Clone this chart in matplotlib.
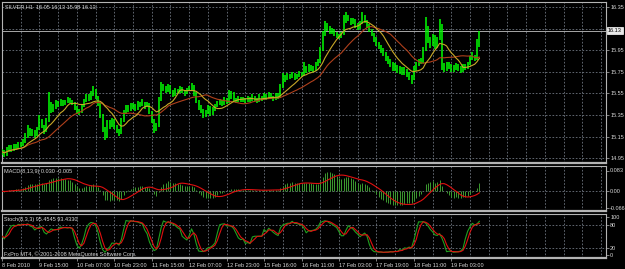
import matplotlib
matplotlib.use("Agg")
import matplotlib.pyplot as plt
import numpy as np
import pandas as pd

# ---------------- data ----------------
closes = [
    15.01, 14.99, 15.03, 15.05, 15.04, 15.06, 15.05, 15.08, 15.07, 15.10,
    15.15, 15.22, 15.18, 15.20, 15.17, 15.22, 15.30, 15.25, 15.20, 15.30,
    15.45, 15.40, 15.42, 15.46, 15.44, 15.48, 15.45, 15.47, 15.50, 15.48,
    15.46, 15.42, 15.40, 15.38, 15.43, 15.48, 15.52, 15.50, 15.55, 15.58,
    15.52, 15.45, 15.35, 15.22, 15.15, 15.28, 15.25, 15.30, 15.24, 15.20,
    15.18, 15.30, 15.38, 15.42, 15.40, 15.44, 15.43, 15.41, 15.45, 15.44,
    15.46, 15.43, 15.45, 15.38, 15.30, 15.22, 15.25, 15.50, 15.62, 15.60,
    15.58, 15.62, 15.56, 15.55, 15.58, 15.56, 15.60, 15.57, 15.55, 15.58,
    15.60, 15.62, 15.55, 15.48, 15.42, 15.40, 15.35, 15.38, 15.42, 15.36,
    15.40, 15.43, 15.46, 15.48, 15.45, 15.50, 15.47, 15.52, 15.55, 15.50,
    15.48, 15.51, 15.49, 15.50, 15.48, 15.51, 15.49, 15.52, 15.50, 15.48,
    15.52, 15.50, 15.53, 15.51, 15.54, 15.52, 15.50, 15.53, 15.52, 15.62,
    15.70, 15.68, 15.72, 15.70, 15.73, 15.69, 15.71, 15.74, 15.72, 15.78,
    15.76, 15.80, 15.78, 15.77, 15.82, 15.84, 15.95, 16.10, 16.18, 16.15,
    16.12, 16.14, 16.10, 16.08, 16.07, 16.10, 16.22, 16.26, 16.24, 16.20,
    16.23, 16.18, 16.16, 16.20, 16.26, 16.22, 16.18, 16.14, 16.10, 16.05,
    16.02, 15.98, 15.95, 15.92, 15.88, 15.85, 15.82, 15.78, 15.80, 15.76,
    15.78, 15.74, 15.77, 15.73, 15.70, 15.68, 15.78, 15.82, 15.85, 15.84,
    15.95, 16.15, 16.05, 16.00, 16.08, 15.98, 16.05, 16.18, 15.80, 15.78,
    15.82, 15.80, 15.77, 15.79, 15.81, 15.78, 15.76, 15.80, 15.79, 15.82,
    15.88, 15.90, 15.87, 16.02, 16.13,
]
highs = [
    15.04, 15.03, 15.05, 15.07, 15.07, 15.08, 15.08, 15.10, 15.10, 15.13,
    15.18, 15.26, 15.23, 15.22, 15.21, 15.24, 15.35, 15.31, 15.26, 15.32,
    15.56, 15.47, 15.45, 15.49, 15.48, 15.50, 15.49, 15.49, 15.52, 15.51,
    15.49, 15.47, 15.43, 15.41, 15.45, 15.50, 15.54, 15.54, 15.57, 15.62,
    15.59, 15.53, 15.46, 15.36, 15.24, 15.30, 15.30, 15.32, 15.31, 15.26,
    15.22, 15.32, 15.40, 15.44, 15.44, 15.46, 15.46, 15.45, 15.48, 15.47,
    15.50, 15.47, 15.47, 15.46, 15.39, 15.31, 15.28, 15.52, 15.66, 15.64,
    15.62, 15.64, 15.63, 15.58, 15.60, 15.59, 15.62, 15.61, 15.58, 15.60,
    15.62, 15.65, 15.63, 15.56, 15.49, 15.44, 15.41, 15.40, 15.44, 15.43,
    15.42, 15.45, 15.48, 15.50, 15.49, 15.52, 15.51, 15.58, 15.57, 15.56,
    15.51, 15.53, 15.52, 15.52, 15.51, 15.53, 15.52, 15.54, 15.53, 15.51,
    15.54, 15.53, 15.55, 15.54, 15.56, 15.55, 15.53, 15.55, 15.55, 15.64,
    15.74, 15.72, 15.74, 15.73, 15.75, 15.74, 15.73, 15.76, 15.75, 15.84,
    15.80, 15.82, 15.81, 15.80, 15.84, 15.87, 15.98, 16.13, 16.22, 16.20,
    16.17, 16.16, 16.15, 16.12, 16.10, 16.12, 16.28, 16.30, 16.28, 16.25,
    16.25, 16.24, 16.20, 16.22, 16.30, 16.28, 16.23, 16.19, 16.15, 16.11,
    16.07, 16.03, 16.00, 15.97, 15.93, 15.90, 15.87, 15.84, 15.83, 15.81,
    15.80, 15.79, 15.79, 15.78, 15.75, 15.72, 15.80, 15.84, 15.87, 15.88,
    15.98, 16.26, 16.17, 16.07, 16.10, 16.09, 16.07, 16.24, 16.19, 15.83,
    15.84, 15.84, 15.82, 15.81, 15.83, 15.82, 15.80, 15.82, 15.82, 15.84,
    15.90, 15.93, 15.91, 16.05, 16.13,
]
lows = [
    14.98, 14.96, 14.97, 15.01, 15.01, 15.02, 15.03, 15.04, 15.05, 15.06,
    15.09, 15.14, 15.16, 15.16, 15.14, 15.16, 15.21, 15.23, 15.17, 15.19,
    15.29, 15.37, 15.38, 15.41, 15.42, 15.43, 15.43, 15.44, 15.46, 15.46,
    15.44, 15.40, 15.37, 15.35, 15.37, 15.42, 15.47, 15.48, 15.49, 15.53,
    15.50, 15.43, 15.32, 15.19, 15.12, 15.14, 15.22, 15.24, 15.22, 15.18,
    15.16, 15.17, 15.29, 15.36, 15.38, 15.39, 15.41, 15.39, 15.40, 15.42,
    15.43, 15.41, 15.42, 15.36, 15.28, 15.18, 15.20, 15.24, 15.48, 15.57,
    15.55, 15.56, 15.54, 15.52, 15.53, 15.54, 15.55, 15.55, 15.53, 15.54,
    15.57, 15.58, 15.53, 15.46, 15.40, 15.37, 15.32, 15.33, 15.36, 15.34,
    15.35, 15.39, 15.42, 15.44, 15.43, 15.44, 15.45, 15.46, 15.50, 15.48,
    15.46, 15.47, 15.47, 15.47, 15.46, 15.47, 15.47, 15.48, 15.48, 15.46,
    15.47, 15.48, 15.49, 15.49, 15.50, 15.50, 15.48, 15.49, 15.50, 15.51,
    15.60, 15.66, 15.67, 15.68, 15.69, 15.67, 15.68, 15.70, 15.70, 15.71,
    15.74, 15.75, 15.76, 15.75, 15.76, 15.80, 15.83, 15.94, 16.08, 16.13,
    16.10, 16.10, 16.08, 16.06, 16.05, 16.06, 16.09, 16.20, 16.22, 16.18,
    16.19, 16.16, 16.14, 16.15, 16.19, 16.20, 16.16, 16.12, 16.08, 16.03,
    15.99, 15.96, 15.92, 15.90, 15.85, 15.82, 15.79, 15.76, 15.76, 15.74,
    15.73, 15.72, 15.72, 15.70, 15.67, 15.64, 15.67, 15.76, 15.80, 15.82,
    15.83, 15.94, 16.02, 15.97, 15.99, 15.96, 15.97, 16.04, 15.77, 15.75,
    15.76, 15.78, 15.75, 15.75, 15.77, 15.76, 15.74, 15.75, 15.77, 15.78,
    15.81, 15.86, 15.85, 15.86, 15.98,
]

symbol_text = "SILVER,H1  16.05 16.13 15.98 16.13"
macd_text = "MACD(8,13,9) 0.030 -0.005"
stoch_text = "Stoch(8,3,3) 95.4545 93.4330"
copyright_text = "FxPro MT4, \u00a9 2001-2008 MetaQuotes Software Corp."

price_grid = [16.35, 16.15, 15.95, 15.75, 15.55, 15.35, 15.15, 14.95]
price_tick_labels = ["16.35", "", "15.95", "15.75", "15.55", "15.35", "15.15", "14.95"]
last_price = 16.13
price_limits = [14.906, 16.396]

macd_ticks = [0.083, 0.0, -0.066]
macd_tick_labels = ["0.083", "0.00", "-0.066"]
macd_limits = [-0.079, 0.103]

stoch_ticks = [100, 80, 20, 0]
stoch_levels = [80, 20]
stoch_limits = [-7.9, 110.5]

time_labels = ["8 Feb 2010", "9 Feb 15:00", "10 Feb 07:00", "10 Feb 23:00",
               "11 Feb 15:00", "12 Feb 07:00", "12 Feb 23:00", "15 Feb 16:00",
               "16 Feb 11:00", "17 Feb 03:00", "17 Feb 19:00", "18 Feb 11:00",
               "19 Feb 03:00"]
label_step = 16
grid_step = 8

ma_fast_period = 10
ma_slow_period = 21
macd_fast, macd_slow, macd_signal = 8, 13, 9
stoch_k, stoch_slow, stoch_d = 8, 3, 3

# ---------------- indicators ----------------
c = pd.Series(closes)
h = pd.Series(highs)
l = pd.Series(lows)
ma_fast = c.rolling(ma_fast_period, min_periods=1).mean()
ma_slow = c.rolling(ma_slow_period, min_periods=1).mean()
macd_main = c.ewm(span=macd_fast, adjust=False).mean() - c.ewm(span=macd_slow, adjust=False).mean()
macd_sig = macd_main.rolling(macd_signal, min_periods=1).mean()
ll = l.rolling(stoch_k, min_periods=1).min()
hh = h.rolling(stoch_k, min_periods=1).max()
k_line = 100 * (c - ll).rolling(stoch_slow, min_periods=1).sum() / (hh - ll).rolling(stoch_slow, min_periods=1).sum()
d_line = k_line.rolling(stoch_d, min_periods=1).mean()

# ---------------- layout ----------------
W, H = 625, 269
BG = "black"
FRAME = "#b4b4b4"
GRID = "#6e7680"
TXT = "#d8d8d8"
plt.rcParams["font.family"] = ["Liberation Sans", "DejaVu Sans"]
FS = 4.0

fig = plt.figure(figsize=(W / 100, H / 100), dpi=100, facecolor=BG)


def box(x0, y0, x1, y1):
    return [x0 / W, 1 - y1 / H, (x1 - x0) / W, (y1 - y0) / H]


ax_p = fig.add_axes(box(2, 2, 606, 163))
ax_m = fig.add_axes(box(2, 165.5, 606, 211))
ax_s = fig.add_axes(box(2, 213.5, 606, 258))

n = len(closes)
x = np.arange(n)
bar_px = 2.34
xlim = (0, 604 / bar_px)
grid_x = np.arange(0, xlim[1], grid_step)

for ax in (ax_p, ax_m, ax_s):
    ax.set_facecolor(BG)
    ax.set_xlim(*xlim)
    for s in ax.spines.values():
        s.set_color(FRAME)
        s.set_linewidth(0.8)
    ax.spines["bottom"].set_linewidth(1.6)
    ax.yaxis.tick_right()
    ax.tick_params(axis="y", colors=FRAME, labelcolor=TXT, labelsize=FS, length=2, width=0.5, pad=1)
    ax.set_xticks([])
    for gx in grid_x:
        ax.axvline(gx, color=GRID, lw=0.6, ls=(0, (2, 2)), zorder=0)

# ---- price panel ----
ax_p.set_ylim(*price_limits)
for gy in price_grid:
    ax_p.axhline(gy, color=GRID, lw=0.6, ls=(0, (2, 2)), zorder=0)
ax_p.set_yticks(price_grid)
ax_p.set_yticklabels(price_tick_labels)
ax_p.axhline(last_price, color="#a8a8a8", lw=0.7, zorder=1)
ax_p.vlines(x, lows, highs, color="#00ff00", lw=1.1, zorder=3)
ax_p.plot(x, ma_slow, color="#b0401c", lw=0.8, zorder=4)
ax_p.plot(x, ma_fast, color="#c8a828", lw=0.8, zorder=5)
ax_p.text(1.003, last_price, f"{last_price:.2f}", transform=ax_p.get_yaxis_transform(),
          fontsize=FS, color="black", va="center", ha="left",
          bbox=dict(boxstyle="square,pad=0.2", fc="#e8e8e8", ec="#ffffff", lw=0.5), clip_on=False)

# ---- MACD panel ----
ax_m.set_ylim(*macd_limits)
ax_m.axhline(0, color=GRID, lw=0.6, ls=(0, (2, 2)), zorder=0)
ax_m.set_yticks(macd_ticks)
ax_m.set_yticklabels(macd_tick_labels)
ax_m.vlines(x, 0, macd_main, color="#3c9a30", lw=0.7, zorder=3)
ax_m.plot(x, macd_sig, color="#e01010", lw=0.8, zorder=4)

# ---- Stochastic panel ----
ax_s.set_ylim(*stoch_limits)
for lv in stoch_levels:
    ax_s.axhline(lv, color=GRID, lw=0.6, ls=(0, (2, 2)), zorder=0)
ax_s.set_yticks(stoch_ticks)
ax_s.set_yticklabels([str(t) for t in stoch_ticks])
ax_s.plot(x, k_line, color="#20a020", lw=0.8, zorder=3)
ax_s.plot(x, d_line, color="#e01010", lw=0.8, zorder=4)

label_pos = np.arange(len(time_labels)) * label_step
ax_s.set_xticks(label_pos)
ax_s.set_xticklabels(time_labels)
ax_s.tick_params(axis="x", colors=FRAME, labelcolor=TXT, labelsize=FS, length=2, width=0.5, pad=1.5)
for t in ax_s.get_xticklabels():
    t.set_ha("left")

# ---- texts ----
def ftext(px, py, s, **kw):
    fig.text(px / W, 1 - py / H, s, fontsize=FS, color=TXT, va="center", ha="left", **kw)

ftext(5, 6.5, symbol_text)
ftext(4, 171, macd_text)
ftext(4, 219, stoch_text)
ftext(4, 254, copyright_text)

fig.savefig("out.png", dpi=100, facecolor=BG)
